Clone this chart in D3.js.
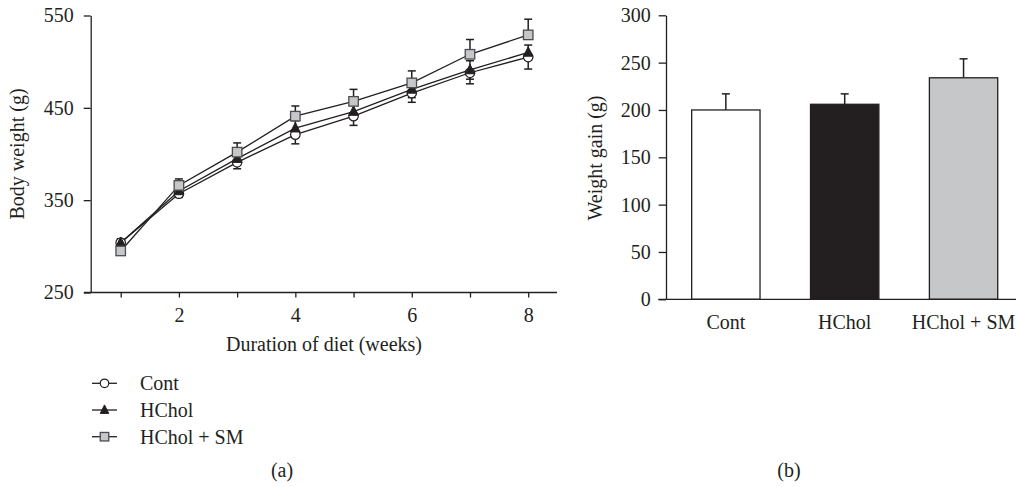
<!DOCTYPE html>
<html>
<head>
<meta charset="utf-8">
<script src="https://cdn.jsdelivr.net/npm/d3@7"></script>
<style>
  body { margin: 0; background: #fff; }
  text { font-family: "Liberation Serif", "Times New Roman", serif; fill: #231f20; }
</style>
</head>
<body>
<svg id="fig" width="1016" height="487"></svg>
<script>
// panel (a): body weight over weeks
var weeks = [1, 2, 3, 4, 5, 6, 7, 8];
var contBW  = [304, 357, 391, 421, 441, 466, 488, 505];
var hcholBW = [304, 360, 395, 428, 446, 470, 491, 510];
var smBW    = [295, 366, 402, 441, 457, 477, 508, 529];
var contSD  = [4, 4, 7, 10, 10, 10, 12, 13];
var hcholSD = [4, 5, 7, 8, 8, 9, 10, 8];
var smSD    = [5, 7, 10, 11, 13, 13, 16, 17];
var bwTicks = [250, 350, 450, 550];
var weekLabels = [2, 4, 6, 8];

// panel (b): weight gain
var groups = ["Cont", "HChol", "HChol + SM"];
var gain   = [200, 206, 234];
var gainSD = [17, 11, 20];
var gainTicks = [0, 50, 100, 150, 200, 250, 300];

var ink = "#231f20";
var gray = "#c6c7c9";
var svg = d3.select("#fig");

// ---------- (a) line chart ----------
var x = d3.scaleLinear().domain([1, 8]).range([120.7, 528.2]);
var y = d3.scaleLinear().domain([250, 550]).range([292.5, 15.5]);

var gA = svg.append("g");

// y axis
var yAx = gA.append("g")
  .attr("transform", "translate(90.7,0)")
  .call(d3.axisLeft(y).tickValues(bwTicks).tickSize(7).tickSizeOuter(0).tickPadding(10));
// x axis (ticks only, domain drawn separately)
var xAx = gA.append("g")
  .attr("transform", "translate(0,292.5)")
  .call(d3.axisBottom(x).tickValues(weeks).tickSize(5).tickSizeOuter(0).tickPadding(10)
    .tickFormat(function(d) { return weekLabels.indexOf(d) >= 0 ? d : ""; }));
xAx.select(".domain").remove();
gA.append("line")
  .attr("x1", 84).attr("x2", 557).attr("y1", 292.5).attr("y2", 292.5)
  .attr("stroke", ink).attr("stroke-width", 1.3);

[yAx, xAx].forEach(function(a) {
  a.selectAll("path,line").attr("stroke", ink).attr("stroke-width", 1.3);
  a.selectAll("text").style("font-size", "20px").style("font-family", "Liberation Serif, serif").attr("fill", ink);
});

gA.append("text")
  .attr("transform", "translate(24,154) rotate(-90)")
  .attr("text-anchor", "middle")
  .style("font-size", "20px")
  .text("Body weight (g)");

gA.append("text")
  .attr("x", 324).attr("y", 351)
  .attr("text-anchor", "middle")
  .style("font-size", "20px")
  .text("Duration of diet (weeks)");

var series = [
  {name: "Cont", vals: contBW, sd: contSD, dir: [1], shape: "circle"},
  {name: "HChol", vals: hcholBW, sd: hcholSD, dir: [-1, 1], shape: "triangle"},
  {name: "HChol + SM", vals: smBW, sd: smSD, dir: [-1], shape: "square"}
];

// error bars
series.forEach(function(s) {
  s.dir.forEach(function(dr) {
    var eb = gA.append("g");
    weeks.forEach(function(w, i) {
      var v = s.vals[i], e = v - dr * s.sd[i];
      eb.append("line").attr("x1", x(w)).attr("x2", x(w)).attr("y1", y(v)).attr("y2", y(e))
        .attr("stroke", ink).attr("stroke-width", 1.5);
      eb.append("line").attr("x1", x(w) - 4).attr("x2", x(w) + 4).attr("y1", y(e)).attr("y2", y(e))
        .attr("stroke", ink).attr("stroke-width", 1.5);
    });
  });
});

var line = d3.line().x(function(d, i) { return x(weeks[i]); }).y(function(d) { return y(d); });
series.forEach(function(s) {
  gA.append("path").attr("d", line(s.vals))
    .attr("fill", "none").attr("stroke", ink).attr("stroke-width", 1.3);
});

function marker(g, shape, cx, cy, sz) {
  if (shape === "circle") {
    g.append("circle").attr("cx", cx).attr("cy", cy).attr("r", sz / 2)
      .attr("fill", "#fff").attr("stroke", ink).attr("stroke-width", 1.2);
  } else if (shape === "triangle") {
    var h = sz;
    g.append("path")
      .attr("d", "M" + cx + "," + (cy - h * 0.6) + "L" + (cx + sz / 2) + "," + (cy + h * 0.4) +
        "L" + (cx - sz / 2) + "," + (cy + h * 0.4) + "Z")
      .attr("fill", ink).attr("stroke", ink).attr("stroke-width", 1);
  } else {
    g.append("rect").attr("x", cx - sz / 2).attr("y", cy - sz / 2).attr("width", sz).attr("height", sz)
      .attr("fill", gray).attr("stroke", "#4d4d4f").attr("stroke-width", 1.3);
  }
}

series.forEach(function(s) {
  var g = gA.append("g");
  weeks.forEach(function(w, i) { marker(g, s.shape, x(w), y(s.vals[i]), 9.5); });
});

// legend
var legY = d3.scalePoint().domain(series.map(function(s) { return s.name; })).range([383.3, 436.7]);
series.forEach(function(s) {
  var ly = legY(s.name);
  gA.append("line").attr("x1", 92).attr("x2", 117).attr("y1", ly).attr("y2", ly)
    .attr("stroke", ink).attr("stroke-width", 1.3);
  marker(gA, s.shape, 104.5, ly, 8.5);
  gA.append("text").attr("x", 140).attr("y", ly).attr("dy", "0.35em")
    .style("font-size", "20px").text(s.name);
});

gA.append("text").attr("x", 282).attr("y", 477).attr("text-anchor", "middle")
  .style("font-size", "20px").text("(a)");

// ---------- (b) bar chart ----------
var yb = d3.scaleLinear().domain([0, 300]).range([299.3, 15.3]);
var xb = d3.scaleBand().domain(groups).range([666, 1023.4]).paddingInner(0.425).paddingOuter(0.216);

var gB = svg.append("g");
var ybAx = gB.append("g")
  .attr("transform", "translate(666,0)")
  .call(d3.axisLeft(yb).tickValues(gainTicks).tickSize(7.3).tickSizeOuter(0).tickPadding(8));
ybAx.selectAll("path,line").attr("stroke", ink).attr("stroke-width", 1.3);
ybAx.selectAll("text").style("font-size", "20px").style("font-family", "Liberation Serif, serif").attr("fill", ink);

gB.selectAll(".eb").data(groups).enter().append("g").each(function(d, i) {
  var cx = xb(d) + xb.bandwidth() / 2;
  var g = d3.select(this);
  g.append("line").attr("x1", cx).attr("x2", cx).attr("y1", yb(gain[i])).attr("y2", yb(gain[i] + gainSD[i]))
    .attr("stroke", ink).attr("stroke-width", 1.5);
  g.append("line").attr("x1", cx - 4).attr("x2", cx + 4)
    .attr("y1", yb(gain[i] + gainSD[i])).attr("y2", yb(gain[i] + gainSD[i]))
    .attr("stroke", ink).attr("stroke-width", 1.5);
});

var barFill = ["#fff", ink, gray];
gB.selectAll(".bar").data(groups).enter().append("rect")
  .attr("x", function(d) { return xb(d); })
  .attr("y", function(d, i) { return yb(gain[i]); })
  .attr("width", xb.bandwidth())
  .attr("height", function(d, i) { return yb(0) - yb(gain[i]); })
  .attr("fill", function(d, i) { return barFill[i]; })
  .attr("stroke", ink).attr("stroke-width", 1.3);

gB.append("line").attr("x1", 658.3).attr("x2", 1016).attr("y1", 299.3).attr("y2", 299.3)
  .attr("stroke", ink).attr("stroke-width", 1.3);

gB.selectAll(".glab").data(groups).enter().append("text")
  .attr("x", function(d) { return xb(d) + xb.bandwidth() / 2; })
  .attr("y", 329)
  .attr("text-anchor", "middle")
  .style("font-size", "20px")
  .text(function(d) { return d; });

gB.append("text")
  .attr("transform", "translate(602,158) rotate(-90)")
  .attr("text-anchor", "middle")
  .style("font-size", "20px")
  .text("Weight gain (g)");

gB.append("text").attr("x", 789).attr("y", 477).attr("text-anchor", "middle")
  .style("font-size", "20px").text("(b)");
</script>
</body>
</html>
